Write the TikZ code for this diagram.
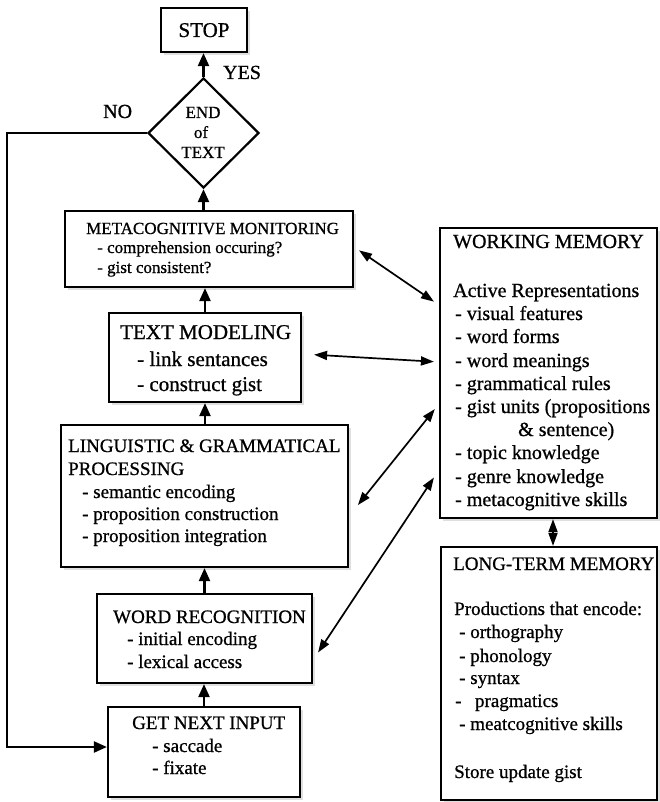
\documentclass[tikz,border=0pt]{standalone}
\usepackage{fontspec}
\setmainfont{Liberation Serif}[FakeBold=0.8]
\usetikzlibrary{shapes.geometric,arrows.meta,shadows,calc}
\newcommand\myfs[1]{\fontsize{#1pt}{#1pt}\selectfont}
\begin{document}
\begin{tikzpicture}[x=1pt,y=-1pt,
  box/.style={draw, line width=2.2pt, rectangle, inner sep=0pt, fill=white,
    drop shadow={shadow xshift=3pt,shadow yshift=-3pt,fill=black!25}},
  txt/.style={anchor=base west, inner sep=0pt},
  ctxt/.style={anchor=base, inner sep=0pt},
  arr/.style={line width=2.2pt, -{Triangle[length=13pt,width=11pt]}},
  darr/.style={line width=1.7pt, {Triangle[length=13pt,width=9pt]}-{Triangle[length=13pt,width=9pt]}}]
\useasboundingbox (0,0) rectangle (660,802);

% boxes
\node[box, minimum width=86pt, minimum height=44pt] (stop) at (204,30) {};
\node[draw, diamond, line width=2.2pt, minimum width=111pt, minimum height=110pt, inner sep=0pt, fill=white] (dia) at (203.5,133) {};
\node[box, minimum width=288pt, minimum height=76pt] (meta) at (209,249) {};
\node[box, minimum width=192pt, minimum height=89pt] (tm) at (205,357.5) {};
\node[box, minimum width=287pt, minimum height=142pt] (ling) at (204.5,496) {};
\node[box, minimum width=215pt, minimum height=89pt] (wr) at (204.5,638.5) {};
\node[box, minimum width=192pt, minimum height=90pt] (gni) at (204,752) {};
\node[box, minimum width=217pt, minimum height=290pt] (wm) at (548.5,373) {};
\node[box, minimum width=216pt, minimum height=253pt] (ltm) at (549,673.5) {};

% texts
\node[ctxt, font=\myfs{21}] (tstop) at (204,37) {STOP};
\node[txt, font=\myfs{20}] (yes) at (223,79) {YES};
\node[txt, font=\myfs{20}] (no) at (103,118) {NO};
\node[ctxt, font=\myfs{17}] (d1) at (203,118) {END};
\node[ctxt, font=\myfs{17}] (d2) at (201,138) {of};
\node[ctxt, font=\myfs{17}] (d3) at (203,158) {TEXT};

\node[txt, font=\myfs{17}] (m1) at (86,234) {METACOGNITIVE MONITORING};
\node[txt, font=\myfs{17}] (m2) at (97,253) {- comprehension occuring?};
\node[txt, font=\myfs{17}] (m3) at (97,273) {- gist consistent?};

\node[txt, font=\myfs{21}] (tm1) at (120,339) {TEXT MODELING};
\node[txt, font=\myfs{21}] (tm2) at (137,366) {- link sentances};
\node[txt, font=\myfs{21}] (tm3) at (137,391) {- construct gist};

\node[txt, font=\myfs{19}] (l1) at (68,452) {LINGUISTIC \& GRAMMATICAL};
\node[txt, font=\myfs{19}] (l2) at (68,475) {PROCESSING};
\node[txt, font=\myfs{19}] (l3) at (82,498) {- semantic encoding};
\node[txt, font=\myfs{19}] (l4) at (82,520) {- proposition construction};
\node[txt, font=\myfs{19}] (l5) at (82,542) {- proposition integration};

\node[txt, font=\myfs{19}] (w1) at (113,623) {WORD RECOGNITION};
\node[txt, font=\myfs{19}] (w2) at (127,645) {- initial encoding};
\node[txt, font=\myfs{19}] (w3) at (127,668) {- lexical access};

\node[txt, font=\myfs{19}] (g1) at (132,729) {GET NEXT INPUT};
\node[txt, font=\myfs{19}] (g2) at (152,752) {- saccade};
\node[txt, font=\myfs{19}] (g3) at (152,774) {- fixate};

\node[txt, font=\myfs{20}] (wm1) at (453,248) {WORKING MEMORY};
\node[txt, font=\myfs{20}] (wm2) at (453,297) {Active Representations};
\node[txt, font=\myfs{20}] (wm3) at (455,320) {- visual features};
\node[txt, font=\myfs{20}] (wm4) at (455,343) {- word forms};
\node[txt, font=\myfs{20}] (wm5) at (455,367) {- word meanings};
\node[txt, font=\myfs{20}] (wm6) at (455,390) {- grammatical rules};
\node[txt, font=\myfs{20}] (wm7) at (455,413) {- gist units (propositions};
\node[txt, font=\myfs{20}] (wm8) at (518,436) {\& sentence)};
\node[txt, font=\myfs{20}] (wm9) at (455,459) {- topic knowledge};
\node[txt, font=\myfs{20}] (wm10) at (455,483) {- genre knowledge};
\node[txt, font=\myfs{20}] (wm11) at (455,506) {- metacognitive skills};

\node[txt, font=\myfs{19}] (lt1) at (453,570) {LONG-TERM MEMORY};
\node[txt, font=\myfs{19}] (lt2) at (454,615) {Productions that encode:};
\node[txt, font=\myfs{19}] (lt3) at (459,638) {- orthography};
\node[txt, font=\myfs{19}] (lt4) at (459,662) {- phonology};
\node[txt, font=\myfs{19}] (lt5) at (459,684) {- syntax};
\node[txt, font=\myfs{19}] (lt6) at (455,707) {-\hspace{13.5pt}pragmatics};
\node[txt, font=\myfs{19}] (lt7) at (459,730) {- meatcognitive skills};
\node[txt, font=\myfs{19}] (lt8) at (454,778) {Store update gist};

% vertical flow
\draw[arr] (dia.north) -- (dia.north |- stop.south);
\draw[arr] (dia.south |- meta.north) -- (dia.south);
\draw[arr] (tm.north) -- (tm.north |- meta.south);
\draw[arr] (tm.south |- ling.north) -- (tm.south);
\draw[arr] (wr.north) -- (wr.north |- ling.south);
\draw[arr] (gni.north) -- (gni.north |- wr.south);

% NO loop
\coordinate (lp) at (7,133);
\draw[arr] (dia.west) -- (lp) |- ([yshift=5pt]gni.west);

% working memory links
\draw[darr] ($(wm.south)+(4.5,0)$) -- ($(ltm.north)+(4,0)$);
\draw[darr, shorten <=6pt, shorten >=6pt] (meta.east |- 0,247) -- (wm.west |- 0,305);
\draw[darr, shorten <=12pt, shorten >=5pt] (tm.east |- 0,354) -- (wm.west |- 0,362);
\draw[darr, shorten <=14pt, shorten >=6.5pt] (ling.east |- 0,516) -- (wm.west |- 0,404);
\draw[darr, shorten <=9pt, shorten >=9pt] (wr.east |- 0,660) -- (wm.west |- 0,470);
\end{tikzpicture}
\end{document}
